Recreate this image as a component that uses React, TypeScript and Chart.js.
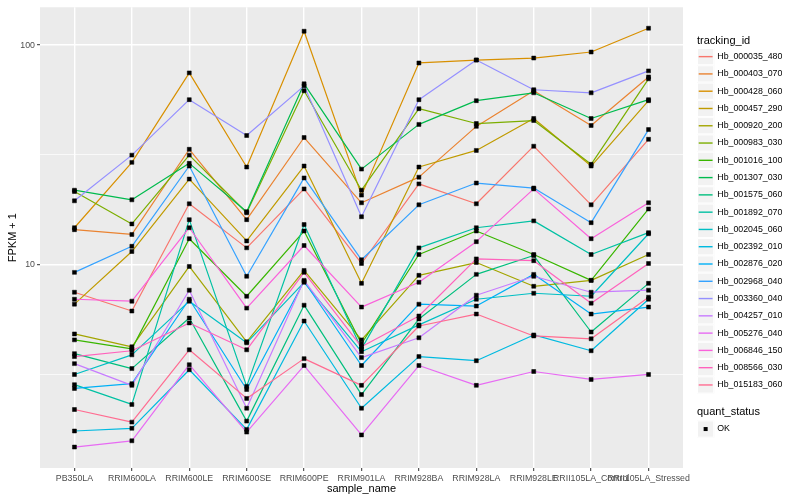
import React, { useEffect, useRef } from 'react';
import { Chart, registerables } from 'chart.js';

Chart.register(...registerables);

const FONT = "'Liberation Sans', Arial, Helvetica, sans-serif";

const categories = [
  'PB350LA', 'RRIM600LA', 'RRIM600LE', 'RRIM600SE', 'RRIM600PE', 'RRIM901LA',
  'RRIM928BA', 'RRIM928LA', 'RRIM928LE', 'RRII105LA_Control', 'RRII105LA_Stressed',
];

const trackingIds = [
  'Hb_000035_480', 'Hb_000403_070', 'Hb_000428_060', 'Hb_000457_290', 'Hb_000920_200',
  'Hb_000983_030', 'Hb_001016_100', 'Hb_001307_030', 'Hb_001575_060', 'Hb_001892_070',
  'Hb_002045_060', 'Hb_002392_010', 'Hb_002876_020', 'Hb_002968_040', 'Hb_003360_040',
  'Hb_004257_010', 'Hb_005276_040', 'Hb_006846_150', 'Hb_008566_030', 'Hb_015183_060',
];

const seriesColors = [
  '#F8766D', '#EA8331', '#D89000', '#C09B00', '#A3A500',
  '#7CAE00', '#39B600', '#00BB4E', '#00BF7D', '#00C1A3',
  '#00BFC4', '#00BAE0', '#00B0F6', '#35A2FF', '#9590FF',
  '#C77CFF', '#E76BF3', '#FA62DB', '#FF62BC', '#FF6C91',
];

const hb_000035_480 = [7.47, 6.13, 18.9, 11.9, 22.1, 10.1, 23.3, 18.9, 34.6, 18.7, 37.2];
const hb_000403_070 = [14.4, 13.7, 33.5, 16.0, 37.9, 19.1, 25.0, 42.6, 61.9, 43.0, 71.6];
const hb_000428_060 = [14.7, 29.2, 74.7, 27.8, 115.7, 20.7, 82.9, 85.5, 87.3, 93.0, 119.4];
const hb_000457_290 = [6.59, 11.45, 24.5, 12.8, 28.1, 8.2, 27.8, 33.1, 46.3, 28.1, 55.8];
const hb_000920_200 = [4.82, 4.21, 9.79, 4.44, 9.39, 4.53, 8.92, 10.2, 7.95, 8.46, 11.1];
const hb_000983_030 = [21.5, 15.3, 31.5, 17.2, 61.9, 21.8, 51.3, 43.9, 45.3, 28.6, 70.2];
const hb_001016_100 = [4.53, 4.12, 13.1, 7.16, 14.2, 4.35, 11.1, 14.2, 11.1, 8.46, 17.9];
const hb_001307_030 = [21.8, 19.7, 28.9, 17.4, 66.6, 27.2, 43.5, 55.8, 60.6, 46.3, 56.4];
const hb_001575_060 = [3.92, 3.35, 5.7, 1.93, 6.52, 2.55, 5.64, 9.01, 10.98, 4.92, 8.2];
const hb_001892_070 = [2.83, 2.3, 16.0, 2.78, 15.2, 4.12, 11.9, 14.7, 15.8, 11.1, 13.96];
const hb_002045_060 = [3.15, 3.87, 6.8, 4.39, 8.29, 4.0, 5.3, 6.94, 7.39, 7.16, 13.8];
const hb_002392_010 = [1.74, 1.79, 3.31, 1.77, 5.52, 2.21, 3.8, 3.64, 4.77, 4.04, 6.94];
const hb_002876_020 = [2.72, 2.86, 6.94, 2.69, 8.38, 3.46, 6.59, 6.46, 9.01, 5.94, 6.39];
const hb_002968_040 = [9.2, 12.1, 28.1, 8.83, 24.8, 10.5, 18.7, 23.5, 22.3, 15.5, 41.2];
const hb_003360_040 = [19.5, 31.5, 56.4, 38.7, 65.2, 16.5, 56.4, 85.5, 62.6, 60.6, 76.3];
const hb_004257_010 = [3.53, 2.81, 7.63, 2.21, 8.46, 3.76, 4.63, 7.24, 8.83, 7.47, 7.63];
const hb_005276_040 = [1.47, 1.57, 3.49, 1.72, 3.46, 1.67, 3.46, 2.81, 3.25, 2.99, 3.15];
const hb_006846_150 = [6.94, 6.8, 14.7, 6.32, 12.2, 6.39, 8.29, 12.7, 22.1, 13.1, 19.1];
const hb_008566_030 = [3.8, 4.04, 5.41, 4.08, 9.2, 4.21, 5.82, 10.6, 10.4, 6.66, 10.1];
const hb_015183_060 = [2.18, 1.91, 4.08, 2.45, 3.72, 2.81, 5.24, 5.94, 4.72, 4.58, 7.09];

const seriesValues = [
  hb_000035_480, hb_000403_070, hb_000428_060, hb_000457_290, hb_000920_200,
  hb_000983_030, hb_001016_100, hb_001307_030, hb_001575_060, hb_001892_070,
  hb_002045_060, hb_002392_010, hb_002876_020, hb_002968_040, hb_003360_040,
  hb_004257_010, hb_005276_040, hb_006846_150, hb_008566_030, hb_015183_060,
];

const yMajorTicks = [10, 100];
const yMajorLabels = ['10', '100'];
const yMinorTicks = [Math.pow(10, 0.5), Math.pow(10, 1.5)];

const quantStatus = ['OK'];

function isMajor(v: number) {
  return yMajorTicks.some((m) => Math.abs(m - v) < 1e-9);
}

const panelBg = {
  id: 'panelBg',
  beforeDraw(chart: any) {
    const { ctx, chartArea: a } = chart;
    ctx.save();
    ctx.fillStyle = '#EBEBEB';
    ctx.fillRect(a.left, a.top, a.right - a.left, a.bottom - a.top);
    ctx.restore();
  },
};

const ggLegend = {
  id: 'ggLegend',
  afterDraw(chart: any) {
    const ctx = chart.ctx;
    const x0 = 697;
    const key = 17.28;
    ctx.save();
    ctx.textAlign = 'left';
    ctx.textBaseline = 'middle';
    ctx.fillStyle = '#000000';
    ctx.font = `11px ${FONT}`;
    ctx.fillText('tracking_id', x0, 41);
    const top0 = 48;
    trackingIds.forEach((id, i) => {
      const y = top0 + i * key;
      ctx.fillStyle = '#F2F2F2';
      ctx.fillRect(x0, y, key, key);
      ctx.strokeStyle = '#FFFFFF';
      ctx.lineWidth = 1;
      ctx.strokeRect(x0 + 0.5, y + 0.5, key - 1, key - 1);
      ctx.strokeStyle = seriesColors[i];
      ctx.lineWidth = 1.4;
      ctx.beginPath();
      ctx.moveTo(x0 + 1.7, y + key / 2);
      ctx.lineTo(x0 + key - 1.7, y + key / 2);
      ctx.stroke();
      ctx.fillStyle = '#000000';
      ctx.font = `8.8px ${FONT}`;
      ctx.fillText(id, x0 + key + 3, y + key / 2);
    });
    ctx.font = `11px ${FONT}`;
    ctx.fillStyle = '#000000';
    ctx.fillText('quant_status', x0, 412);
    quantStatus.forEach((s, i) => {
      const y = 420.4 + i * key;
      ctx.fillStyle = '#F2F2F2';
      ctx.fillRect(x0, y, key, key);
      ctx.strokeStyle = '#FFFFFF';
      ctx.lineWidth = 1;
      ctx.strokeRect(x0 + 0.5, y + 0.5, key - 1, key - 1);
      ctx.fillStyle = '#000000';
      ctx.fillRect(x0 + key / 2 - 2, y + key / 2 - 2, 4, 4);
      ctx.font = `8.8px ${FONT}`;
      ctx.fillText(s, x0 + key + 3, y + key / 2);
    });
    ctx.restore();
  },
};

export default function App() {
  const ref = useRef<HTMLCanvasElement>(null);

  useEffect(() => {
    const all = seriesValues.flat();
    const lo = Math.log10(Math.min(...all));
    const hi = Math.log10(Math.max(...all));
    const span = hi - lo;
    const yMin = Math.pow(10, lo - 0.05 * span);
    const yMax = Math.pow(10, hi + 0.05 * span);

    const lineSets = seriesValues.map((vals, i) => ({
      type: 'line' as const,
      label: trackingIds[i],
      data: vals.map((v, j) => ({ x: j, y: v })),
      borderColor: seriesColors[i],
      backgroundColor: seriesColors[i],
      borderWidth: 1.2,
      borderJoinStyle: 'round' as const,
      pointRadius: 0,
      fill: false,
      tension: 0,
      order: 100 - i,
    }));

    const pointSet = {
      type: 'line' as const,
      label: 'quant_status',
      data: seriesValues.flatMap((vals) => vals.map((v, j) => ({ x: j, y: v }))),
      showLine: false,
      pointStyle: 'rect' as const,
      pointRadius: 2.8,
      pointBackgroundColor: '#000000',
      pointBorderColor: '#000000',
      pointBorderWidth: 0.5,
      order: 0,
    };

    const tickFont = { size: 8.8, family: FONT };
    const titleFont = { size: 11, family: FONT };

    const chart = new Chart(ref.current as HTMLCanvasElement, {
      type: 'line',
      data: { datasets: [...lineSets, pointSet] as any },
      options: {
        animation: false,
        responsive: false,
        events: [],
        layout: { padding: { left: 0, top: 5, right: 117, bottom: 0 } },
        plugins: { legend: { display: false }, tooltip: { enabled: false } },
        scales: {
          x: {
            type: 'linear',
            min: -0.6,
            max: 10.6,
            afterBuildTicks: (scale: any) => {
              scale.ticks = categories.map((_, i) => ({ value: i }));
            },
            afterFit: (scale: any) => {
              scale.height = 32;
            },
            ticks: {
              autoSkip: false,
              maxRotation: 0,
              minRotation: 0,
              padding: 2,
              color: '#4D4D4D',
              font: tickFont,
              callback: (v: any) => categories[Math.round(Number(v))] ?? '',
            },
            grid: {
              color: '#FFFFFF',
              lineWidth: 1.4,
              drawTicks: true,
              tickLength: 3,
              tickColor: '#333333',
              tickWidth: 1,
            },
            border: { display: false },
            title: {
              display: true,
              text: 'sample_name',
              color: '#000000',
              font: titleFont,
              padding: { top: 0, bottom: 4 },
            },
          },
          y: {
            type: 'logarithmic',
            min: yMin,
            max: yMax,
            afterBuildTicks: (scale: any) => {
              scale.ticks = [...yMinorTicks, ...yMajorTicks]
                .sort((a, b) => a - b)
                .map((v) => ({ value: v }));
            },
            afterFit: (scale: any) => {
              scale.width = 40;
            },
            ticks: {
              autoSkip: false,
              padding: 2,
              color: '#4D4D4D',
              font: tickFont,
              callback: (v: any) => {
                const idx = yMajorTicks.findIndex((m) => Math.abs(m - Number(v)) < 1e-9);
                return idx >= 0 ? yMajorLabels[idx] : '';
              },
            },
            grid: {
              color: '#FFFFFF',
              lineWidth: (ctx: any) => (ctx.tick && isMajor(ctx.tick.value) ? 1.4 : 0.7),
              drawTicks: true,
              tickLength: 3,
              tickColor: (ctx: any) =>
                ctx.tick && isMajor(ctx.tick.value) ? '#333333' : 'rgba(0,0,0,0)',
              tickWidth: 1,
            },
            border: { display: false },
            title: {
              display: true,
              text: 'FPKM + 1',
              color: '#000000',
              font: titleFont,
              padding: { top: 6, bottom: 0 },
            },
          },
        },
      },
      plugins: [panelBg, ggLegend],
    } as any);

    return () => chart.destroy();
  }, []);

  return (
    <div style={{ position: 'absolute', left: 0, top: 0, width: 800, height: 500, background: '#FFFFFF' }}>
      <canvas ref={ref} width={800} height={500} style={{ display: 'block', width: 800, height: 500 }} />
    </div>
  );
}
